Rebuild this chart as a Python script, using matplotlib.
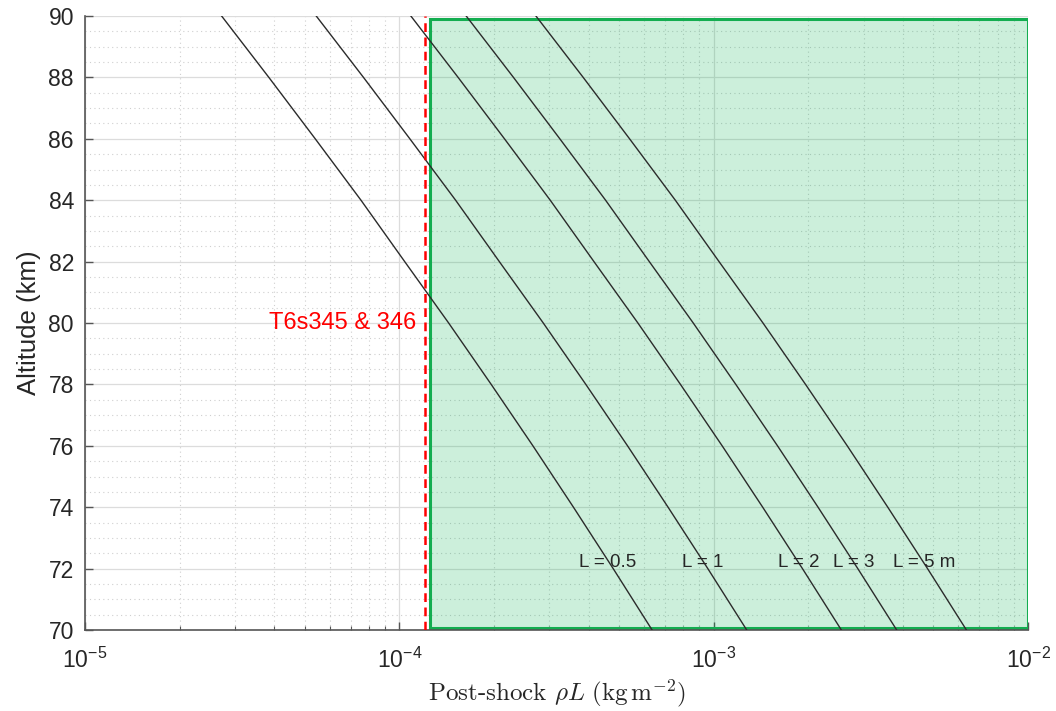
import numpy as np
import matplotlib
matplotlib.use("Agg")
import matplotlib.pyplot as plt
from matplotlib.ticker import LogLocator, MultipleLocator, LogFormatterMathtext
from matplotlib.patches import Rectangle

# ---------------------------------------------------------
# DATA
# ---------------------------------------------------------
altitude_km = [70, 72, 74, 76, 78, 80, 82, 84, 86, 88, 90]
# post-shock density for L = 1 m (kg m^-3)
rho_post = [1.274e-3, 9.58e-4, 7.16e-4, 5.32e-4, 3.92e-4, 2.87e-4,
            2.08e-4, 1.51e-4, 1.08e-4, 7.69e-5, 5.44e-5]
lengths_m = [0.5, 1, 2, 3, 5]
length_labels = ["L = 0.5", "L = 1", "L = 2", "L = 3", "L = 5 m"]
label_x = [3.74e-4, 7.91e-4, 1.60e-3, 2.39e-3, 3.71e-3]
label_alt = 72.2

facility_limit = 1.21e-4      # T6 shots 345 & 346
region_x = [1.25e-4, 1.0e-2]
region_alt = [70.08, 89.9]

plt.rcParams["font.family"] = ["Liberation Sans", "DejaVu Sans"]
plt.rcParams["mathtext.fontset"] = "custom"
plt.rcParams["mathtext.rm"] = "Liberation Sans"
plt.rcParams["mathtext.it"] = "Liberation Sans:italic"

fig = plt.figure(figsize=(10.56, 7.11), dpi=100)
ax = fig.add_axes([0.0805, 0.1139, 0.893, 0.8636])

# shaded accessible region
ax.add_patch(Rectangle((region_x[0], region_alt[0]), region_x[1] - region_x[0],
                       region_alt[1] - region_alt[0],
                       facecolor=(0.0, 0.69, 0.31, 0.2), edgecolor="#13ad50",
                       lw=2.2, zorder=1))

rho = np.array(rho_post)
for L in lengths_m:
    ax.plot(rho * L, altitude_km, color="#2b2b2b", lw=1.0, zorder=3)

for x, s in zip(label_x, length_labels):
    ax.text(x, label_alt, s, fontsize=13.5, color="#262626", ha="left", va="center", zorder=4)

ax.axvline(facility_limit, color="#ff0000", lw=1.8, ls=(0, (3.5, 2.2)), zorder=4)
ax.text(1.13e-4, 80, "T6s345 & 346", color="#ff0000", fontsize=17,
        ha="right", va="center", zorder=4)

ax.set_xscale("log")
ax.set_xlim(1e-5, 1e-2)
ax.set_ylim(70, 90)
ax.xaxis.set_major_locator(LogLocator(base=10, numticks=10))
ax.xaxis.set_minor_locator(LogLocator(base=10, subs=np.arange(2, 10), numticks=20))
ax.xaxis.set_major_formatter(LogFormatterMathtext())
ax.yaxis.set_major_locator(MultipleLocator(2))
ax.yaxis.set_minor_locator(MultipleLocator(0.5))

ax.grid(which="major", color="#dcdcdc", lw=0.9, ls="-", zorder=0)
ax.grid(which="minor", color="#cfcfcf", lw=0.8, ls=(0, (1, 3)), zorder=0)
ax.set_axisbelow(True)

for side in ["top", "right"]:
    ax.spines[side].set_visible(False)
for side in ["left", "bottom"]:
    ax.spines[side].set_color("#555555")
    ax.spines[side].set_linewidth(1.2)

ax.tick_params(which="major", direction="in", length=6, width=1, colors="#555555",
               labelcolor="#262626", labelsize=16.5)
ax.tick_params(which="minor", direction="in", length=3, width=0.8, colors="#555555")
ax.tick_params(axis="x", pad=13)
ax.tick_params(axis="y", pad=8)
ax.tick_params(axis="y", which="minor", length=0)

ax.set_ylabel("Altitude (km)", fontsize=18.5, color="#262626", labelpad=5)
ax.set_xlabel(r"Post-shock $\rho L\ (\mathrm{kg\,m^{-2}})$", fontsize=18,
              color="#262626", labelpad=3, family="cmr10",
              math_fontfamily="cm")

fig.savefig("out.png", dpi=100, facecolor="white")
plt.close(fig)
